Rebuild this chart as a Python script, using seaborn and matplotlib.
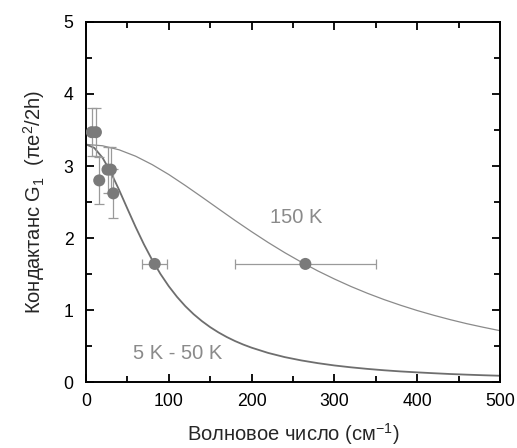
import matplotlib
matplotlib.use("Agg")
import matplotlib.pyplot as plt
import seaborn as sns
import pandas as pd
from matplotlib.ticker import MultipleLocator

# measured points
pt_x = [7, 12, 16, 26, 30, 33, 83, 265]
pt_y = [3.47, 3.47, 2.80, 2.95, 2.95, 2.62, 1.64, 1.64]
pt_yerr = [0.33, 0.33, 0.33, 0.32, 0.32, 0.34, 0.0, 0.0]
pt_xerr = [0, 0, 0, 0, 0, 0, 15, 85]

# fitted curves
low_x = [0, 10, 20, 30, 40, 50, 60, 70, 80, 90, 100, 110, 120, 130, 140, 150,
         160, 170, 180, 190, 200, 220, 240, 260, 280, 300, 320, 340, 360, 380,
         400, 420, 440, 460, 480, 500]
low_y = [3.300, 3.252, 3.115, 2.912, 2.668, 2.408, 2.152, 1.912, 1.694, 1.500,
         1.330, 1.182, 1.053, 0.942, 0.846, 0.762, 0.689, 0.625, 0.569, 0.520,
         0.477, 0.404, 0.346, 0.300, 0.262, 0.230, 0.204, 0.182, 0.163, 0.147,
         0.134, 0.122, 0.111, 0.102, 0.094, 0.087]
high_x = [0, 20, 40, 60, 80, 100, 120, 140, 160, 180, 200, 220, 240, 260, 280,
          300, 320, 340, 360, 380, 400, 420, 440, 460, 480, 500]
high_y = [3.300, 3.281, 3.225, 3.136, 3.019, 2.882, 2.729, 2.569, 2.406, 2.244,
          2.088, 1.938, 1.797, 1.666, 1.543, 1.431, 1.327, 1.232, 1.145, 1.066,
          0.993, 0.927, 0.866, 0.810, 0.760, 0.713]

sns.set_theme(style="ticks")
plt.rcParams['font.family'] = ['Liberation Sans', 'DejaVu Sans']
plt.rcParams['mathtext.fontset'] = 'custom'
plt.rcParams['mathtext.rm'] = 'Liberation Sans'

fig = plt.figure(figsize=(5.17, 4.48), dpi=100)
ax = fig.add_axes([0.1663, 0.1473, 0.8007, 0.8036])

sns.lineplot(x=high_x, y=high_y, ax=ax, color="#8a8a8a", linewidth=0.9)
sns.lineplot(x=low_x, y=low_y, ax=ax, color="#6e6e6e", linewidth=1.3)

ax.errorbar(pt_x, pt_y, yerr=pt_yerr, xerr=pt_xerr, fmt="none",
            ecolor="#9a9a9a", elinewidth=0.9, capsize=3.5, capthick=0.9, zorder=3)
df = pd.DataFrame({"x": pt_x, "y": pt_y})
sns.scatterplot(data=df, x="x", y="y", ax=ax, color="#7a7a7a", s=75,
                edgecolor="none", zorder=4)

ax.text(222, 2.29, "150 K", fontsize=14.5, color="#8a8a8a", va="center", ha="left")
ax.text(57, 0.39, "5 K - 50 K", fontsize=14.5, color="#8a8a8a", va="center", ha="left")

ax.set_xlim(0, 500)
ax.set_ylim(0, 5)
ax.xaxis.set_major_locator(MultipleLocator(100))
ax.xaxis.set_minor_locator(MultipleLocator(50))
ax.yaxis.set_major_locator(MultipleLocator(1))
ax.yaxis.set_minor_locator(MultipleLocator(0.5))
ax.tick_params(which="both", direction="in", top=True, right=True, width=1.3,
               labelsize=12.7, colors="black")
ax.tick_params(which="major", length=6)
ax.tick_params(which="minor", length=4)
ax.tick_params(axis="x", which="major", pad=8)
ax.tick_params(axis="y", which="major", pad=9)
for s in ax.spines.values():
    s.set_linewidth(1.4)
    s.set_color("black")

ax.set_xlabel("Волновое число (см$^{\\mathregular{-1}}$)", fontsize=14.5, labelpad=8)
ax.set_ylabel("Кондактанс G$_{\\mathregular{1}}$  (πe$^{\\mathregular{2}}$/2h)", fontsize=14.5, labelpad=12)

fig.savefig("out.png", dpi=100)
